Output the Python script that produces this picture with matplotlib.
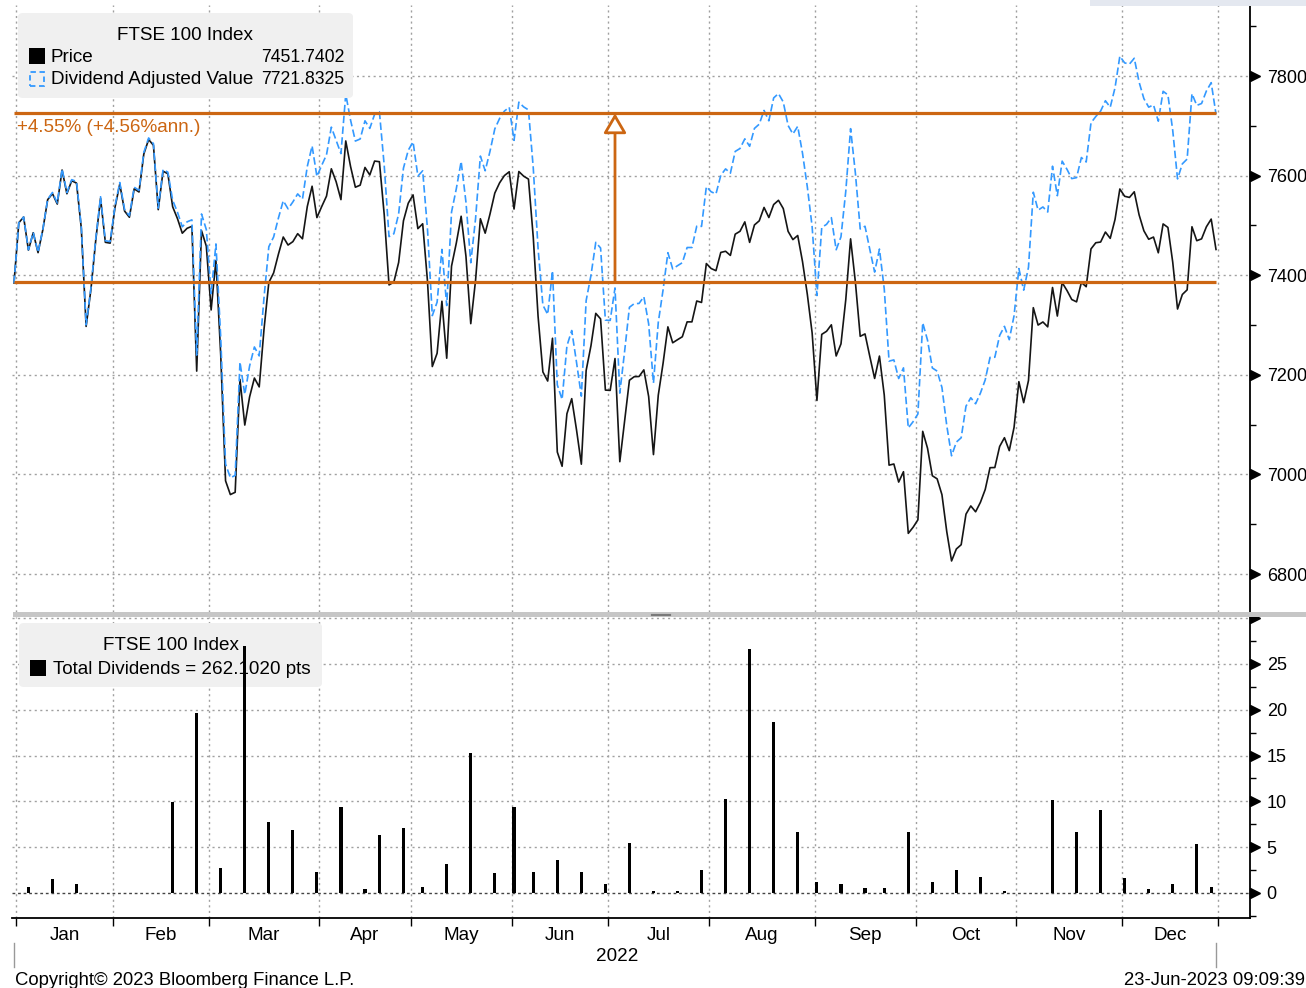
import numpy as np
import pandas as pd
import matplotlib
matplotlib.use("Agg")
import matplotlib.pyplot as plt
import matplotlib.transforms as mtransforms
from matplotlib.patches import FancyBboxPatch, Rectangle
from matplotlib.lines import Line2D

plt.rcParams['font.family'] = ['Liberation Sans', 'DejaVu Sans']

# ---------------- data ----------------
first_day = '2021-12-31'
last_day = '2022-12-30'
uk_holidays = ['2022-01-03', '2022-04-15', '2022-04-18', '2022-05-02', '2022-06-02',
               '2022-06-03', '2022-08-29', '2022-09-19', '2022-12-26', '2022-12-27']

price_dec21 = [7384.5]
price_jan = [7505.2, 7516.9, 7450.4, 7485.3, 7445.3, 7491.4, 7551.7, 7563.9, 7542.9, 7611.2,
             7563.6, 7589.7, 7585.0, 7494.1, 7297.2, 7371.5, 7469.8, 7554.3, 7466.1, 7464.4]
price_feb = [7535.8, 7583.0, 7528.8, 7516.4, 7573.5, 7567.1, 7643.4, 7672.4, 7661.0, 7531.6,
             7608.9, 7603.8, 7537.4, 7513.6, 7484.3, 7494.2, 7498.2, 7207.4, 7489.5, 7458.3]
price_mar = [7330.2, 7429.6, 7238.8, 6987.1, 6959.5, 6964.1, 7190.7, 7099.1, 7155.6, 7193.5,
             7175.7, 7291.7, 7385.3, 7404.7, 7442.4, 7476.7, 7460.6, 7467.4, 7483.4, 7473.1,
             7537.9, 7578.7, 7515.7]
price_apr = [7537.9, 7558.9, 7613.7, 7587.7, 7551.8, 7669.6, 7618.3, 7576.7, 7580.8, 7616.4,
             7601.3, 7629.2, 7627.9, 7521.7, 7380.5, 7386.2, 7425.6, 7509.2, 7544.6]
price_may = [7561.3, 7493.5, 7503.3, 7387.9, 7216.6, 7243.2, 7347.7, 7233.3, 7418.2, 7464.8,
             7518.4, 7438.1, 7302.7, 7389.9, 7513.4, 7484.4, 7522.8, 7564.9, 7585.5, 7600.1,
             7607.7]
price_jun = [7532.9, 7608.2, 7598.9, 7593.0, 7476.2, 7317.5, 7205.8, 7187.5, 7273.4, 7044.9,
             7016.3, 7121.8, 7152.1, 7089.2, 7020.5, 7208.8, 7258.3, 7323.4, 7312.3, 7169.3]
price_jul = [7168.7, 7232.7, 7025.5, 7107.8, 7189.1, 7196.2, 7196.6, 7209.9, 7156.4, 7039.8,
             7159.0, 7223.2, 7296.3, 7264.3, 7270.5, 7276.4, 7306.3, 7306.3, 7348.2, 7345.3,
             7423.4]
price_aug = [7413.4, 7409.1, 7445.7, 7448.1, 7439.7, 7482.4, 7488.2, 7507.1, 7465.9, 7500.9,
             7509.2, 7536.1, 7515.8, 7541.9, 7550.4, 7533.8, 7488.1, 7471.5, 7479.7, 7427.3,
             7361.6, 7284.2]
price_sep = [7148.5, 7281.2, 7287.4, 7300.4, 7237.8, 7262.1, 7351.1, 7473.0, 7385.9, 7277.3,
             7282.1, 7236.7, 7192.7, 7237.6, 7159.5, 7018.6, 7020.9, 6984.6, 7005.4, 6881.6,
             6893.8]
price_oct = [6908.8, 7086.5, 7052.6, 6997.3, 6991.1, 6959.3, 6885.2, 6826.2, 6850.3, 6858.8,
             6920.2, 6936.7, 6924.9, 6943.9, 6969.7, 7013.5, 7013.8, 7056.1, 7073.7, 7047.7,
             7094.5]
price_nov = [7186.2, 7144.1, 7188.6, 7334.8, 7299.9, 7306.1, 7296.3, 7375.3, 7318.0, 7385.2,
             7369.4, 7351.2, 7346.5, 7385.5, 7376.9, 7452.8, 7465.2, 7466.6, 7486.7, 7474.0,
             7512.0, 7573.1]
price_dec = [7558.5, 7556.2, 7567.5, 7521.4, 7489.2, 7472.2, 7476.6, 7445.0, 7503.0, 7495.9,
             7426.2, 7332.1, 7361.3, 7370.6, 7497.3, 7469.3, 7473.0, 7497.2, 7512.7, 7451.7]

div_dates = ['2022-01-06', '2022-01-13', '2022-01-20', '2022-02-17', '2022-02-24',
             '2022-03-03', '2022-03-10', '2022-03-17', '2022-03-24', '2022-03-31',
             '2022-04-07', '2022-04-14', '2022-04-21', '2022-04-28', '2022-05-05',
             '2022-05-12', '2022-05-19', '2022-05-26', '2022-06-01', '2022-06-09',
             '2022-06-16', '2022-06-23', '2022-06-30', '2022-07-07', '2022-07-14',
             '2022-07-21', '2022-07-28', '2022-08-04', '2022-08-11', '2022-08-18',
             '2022-08-25', '2022-09-01', '2022-09-08', '2022-09-15', '2022-09-22',
             '2022-09-29', '2022-10-06', '2022-10-13', '2022-10-20', '2022-10-27',
             '2022-11-10', '2022-11-17', '2022-11-24', '2022-12-01', '2022-12-08',
             '2022-12-15', '2022-12-22', '2022-12-29']
div_values = [0.65, 1.56, 0.95, 9.9, 19.7, 2.76, 27.0, 7.8, 6.9, 2.3,
              9.35, 0.47, 6.3, 7.05, 0.65, 3.2, 15.3, 2.2, 9.35, 2.3,
              3.56, 2.3, 0.95, 5.5, 0.2, 0.2, 2.55, 10.3, 26.6, 18.7,
              6.65, 1.16, 1.0, 0.55, 0.55, 6.65, 1.16, 2.55, 1.75, 0.2,
              10.1, 6.65, 9.1, 1.6, 0.45, 1.0, 5.3, 0.7]

index_name = "FTSE 100 Index"
last_price = 7451.7402
last_adjusted = 7721.8325
total_dividends = 262.1020
range_low = 7387.0
range_high = 7725.0
change_label = "+4.55% (+4.56%ann.)"
month_labels = ["Jan", "Feb", "Mar", "Apr", "May", "Jun",
                "Jul", "Aug", "Sep", "Oct", "Nov", "Dec"]
year_label = "2022"
price_ticks = [6800, 7000, 7200, 7400, 7600, 7800]
price_minor = [6900, 7100, 7300, 7500, 7700, 7900]
div_ticks = [0, 5, 10, 15, 20, 25]
div_minor = [-2.5, 2.5, 7.5, 12.5, 17.5, 22.5, 27.5]
copyright_text = "Copyright\u00a9 2023 Bloomberg Finance L.P."
stamp_text = "23-Jun-2023 09:09:39"

# ---------------- series build ----------------
days = pd.bdate_range(first_day, last_day)
days = days[~days.isin(pd.to_datetime(uk_holidays))]
price = np.array(price_dec21 + price_jan + price_feb + price_mar + price_apr + price_may +
                 price_jun + price_jul + price_aug + price_sep + price_oct + price_nov + price_dec)
n = len(days)
x = np.arange(n)

div_daily = pd.Series(0.0, index=days)
div_daily.loc[pd.to_datetime(div_dates)] = div_values
dd = div_daily.values
adjusted = np.empty(n)
adjusted[0] = price[0]
for i in range(1, n):
    adjusted[i] = adjusted[i - 1] * (price[i] + dd[i]) / price[i - 1]

div_x = days.get_indexer(pd.to_datetime(div_dates))

# month boundaries (trading-day axis)
bounds = []
for m in range(1, 13):
    idx = np.where((days.year == 2022) & (days.month == m))[0]
    bounds.append(idx[0] - 0.5)
bounds.append(n - 0.5)
centers = [(bounds[i] + bounds[i + 1]) / 2 for i in range(12)]

# ---------------- figure ----------------
W, H = 1306, 988
fig = plt.figure(figsize=(W / 100, H / 100), dpi=100)
fig.patch.set_facecolor('white')


def fx(px):
    return px / W


def fy(py):
    return 1 - py / H


BLACK = '#151515'
BLUE = '#3399FF'
ORANGE = '#CC6612'
GRID = '#a0a0a0'
FS = 13.6
NFS = 12.7
TFS = 13.0

px_per = 4.808
left_px = 14 - 0.4 * px_per
right_px = 1250
xmax = (right_px - 14) / px_per

ax1 = fig.add_axes([fx(left_px), fy(612), fx(right_px) - fx(left_px), (612 - 5) / H])
ax2 = fig.add_axes([fx(left_px), fy(918), fx(right_px) - fx(left_px), (918 - 617) / H])

for ax in (ax1, ax2):
    ax.set_xlim(-0.4, xmax)
    for s in ('top', 'left'):
        ax.spines[s].set_visible(False)
    ax.spines['right'].set_color('black')
    ax.spines['right'].set_linewidth(1.3)
    ax.yaxis.tick_right()
    ax.set_facecolor('none')
    for b in bounds:
        ax.axvline(b, color=GRID, lw=1.0, ls=(0, (1.5, 2.5)), zorder=1)

ax1.spines['bottom'].set_visible(False)
ax2.spines['bottom'].set_color('black')
ax2.spines['bottom'].set_linewidth(1.3)

# --- top panel ---
ax1.set_ylim(6723.7, 7942.6)
for t in price_ticks:
    ax1.axhline(t, color=GRID, lw=1.0, ls=(0, (1.5, 2.5)), zorder=1)
ax1.plot(x, price, color=BLACK, lw=1.2, zorder=3)
ax1.plot(x, adjusted, color=BLUE, lw=1.2, dashes=(4.5, 2), zorder=4)
ax1.hlines([range_low, range_high], x[0], x[-1], color=ORANGE, lw=2.3, zorder=5)
mid_x = (x[0] + x[-1]) / 2
ax1.annotate('', xy=(mid_x, range_high), xytext=(mid_x, range_low),
             arrowprops=dict(arrowstyle='-|>,head_length=0.6,head_width=0.35',
                             facecolor='white', edgecolor=ORANGE, lw=2.0,
                             shrinkA=0, shrinkB=0, mutation_scale=20), zorder=6)
ax1.set_yticks(price_ticks)
ax1.set_yticklabels([str(t) for t in price_ticks])
ax1.set_yticks(price_minor, minor=True)
ax1.set_xticks([])
ax1.tick_params(axis='y', which='major', length=0, pad=12, labelsize=TFS)
ax1.tick_params(axis='y', which='minor', length=4, width=1.0, color='black')

trans_off = mtransforms.ScaledTranslation(5 / 100, 0, fig.dpi_scale_trans)
ax1.plot([1] * len(price_ticks), price_ticks, ls='none', marker='>', ms=7, color='black',
         transform=ax1.get_yaxis_transform() + trans_off, clip_on=False, zorder=7)

ax1.text(fx(17), fy(127), change_label, transform=fig.transFigure, color=ORANGE,
         fontsize=FS, ha='left', va='center', zorder=8)

# legend (top)
box1 = FancyBboxPatch((fx(18), fy(98)), fx(353) - fx(18), (98 - 13) / H,
                      boxstyle='round,pad=0,rounding_size=0.004', transform=fig.transFigure,
                      facecolor='#f0f0f0', edgecolor='none', zorder=9, clip_on=False)
ax1.add_patch(box1)
ax1.text(fx(185), fy(35), index_name, transform=fig.transFigure, fontsize=FS,
         ha='center', va='center', zorder=10)
ax1.add_patch(Rectangle((fx(29), fy(64)), 16 / W, 16 / H, transform=fig.transFigure,
                        facecolor='black', edgecolor='none', zorder=10, clip_on=False))
ax1.text(fx(51), fy(57), "Price", transform=fig.transFigure, fontsize=FS,
         ha='left', va='center', zorder=10)
ax1.text(fx(344), fy(57), f"{last_price:.4f}", transform=fig.transFigure, fontsize=NFS,
         ha='right', va='center', zorder=10)
ax1.add_patch(Rectangle((fx(30), fy(86)), 14 / W, 14 / H, transform=fig.transFigure,
                        facecolor='none', edgecolor=BLUE, lw=1.3, ls=(0, (3, 2)),
                        zorder=10, clip_on=False))
ax1.text(fx(51), fy(80), "Dividend Adjusted Value", transform=fig.transFigure, fontsize=FS,
         ha='left', va='center', zorder=10)
ax1.text(fx(344), fy(80), f"{last_adjusted:.4f}", transform=fig.transFigure, fontsize=NFS,
         ha='right', va='center', zorder=10)

# --- bottom panel ---
ax2.set_ylim(-2.73, 30.13)
for t in div_ticks[1:] + [30]:
    ax2.axhline(t, color=GRID, lw=1.0, ls=(0, (1.5, 2.5)), zorder=1)
ax2.axhline(0, color='#444444', lw=1.0, ls=(0, (2, 2)), zorder=2)
ax2.bar(div_x, div_values, width=0.65, color='black', zorder=5)
ax2.set_yticks(div_ticks + [30])
ax2.set_yticklabels([str(t) for t in div_ticks] + [''])
ax2.set_yticks(div_minor, minor=True)
ax2.tick_params(axis='y', which='major', length=0, pad=12, labelsize=TFS)
ax2.tick_params(axis='y', which='minor', length=4, width=1.0, color='black')
ax2.plot([1] * (len(div_ticks) + 1), div_ticks + [30], ls='none', marker='>', ms=7,
         color='black', transform=ax2.get_yaxis_transform() + trans_off, clip_on=False,
         zorder=7)

ax2.set_xticks(bounds)
ax2.set_xticklabels([''] * len(bounds))
ax2.set_xticks(centers, minor=True)
ax2.set_xticklabels(month_labels, minor=True)
ax2.tick_params(axis='x', which='major', length=6, width=1.0, direction='out', color='black')
ax2.tick_params(axis='x', which='minor', length=0, pad=6.5, labelsize=FS)

year_trans = mtransforms.blended_transform_factory(ax2.transData, fig.transFigure)
ax2.text((bounds[0] + bounds[-1]) / 2, fy(956), year_label, transform=year_trans,
         fontsize=FS, ha='center', va='center')

box2 = FancyBboxPatch((fx(19), fy(687)), fx(322) - fx(19), (687 - 623) / H,
                      boxstyle='round,pad=0,rounding_size=0.004', transform=fig.transFigure,
                      facecolor='#f0f0f0', edgecolor='none', zorder=2.5, clip_on=False)
ax2.add_patch(box2)
ax2.text(fx(171), fy(646), index_name, transform=fig.transFigure, fontsize=FS,
         ha='center', va='center', zorder=3)
ax2.add_patch(Rectangle((fx(30), fy(676)), 16 / W, 16 / H, transform=fig.transFigure,
                        facecolor='black', edgecolor='none', zorder=3, clip_on=False))
ax2.text(fx(53), fy(669), f"Total Dividends = {total_dividends:.4f} pts",
         transform=fig.transFigure, fontsize=FS, ha='left', va='center', zorder=3)

# --- decorations ---
fig.add_artist(Rectangle((fx(13), fy(616.5)), fx(1306) - fx(13), 5 / H,
                         transform=fig.transFigure, facecolor='#c6c6c6', edgecolor='none'))
for yy in (613.6, 615.4):
    fig.add_artist(Line2D([fx(651), fx(670)], [fy(yy), fy(yy)], transform=fig.transFigure,
                          color='#7a7a7a', lw=0.8))
fig.add_artist(Rectangle((fx(1090), fy(6)), fx(1306) - fx(1090), 6 / H,
                         transform=fig.transFigure, facecolor='#e4e8f0', edgecolor='none'))
for xx in (14, 1216):
    fig.add_artist(Line2D([fx(xx), fx(xx)], [fy(943), fy(967)], transform=fig.transFigure,
                          color='#999999', lw=1.0))

fig.text(fx(15), fy(980), copyright_text, fontsize=13.3, ha='left', va='center')
fig.text(fx(1305), fy(980), stamp_text, fontsize=13.3, ha='right', va='center')

fig.savefig('out.png', dpi=100, facecolor='white')
